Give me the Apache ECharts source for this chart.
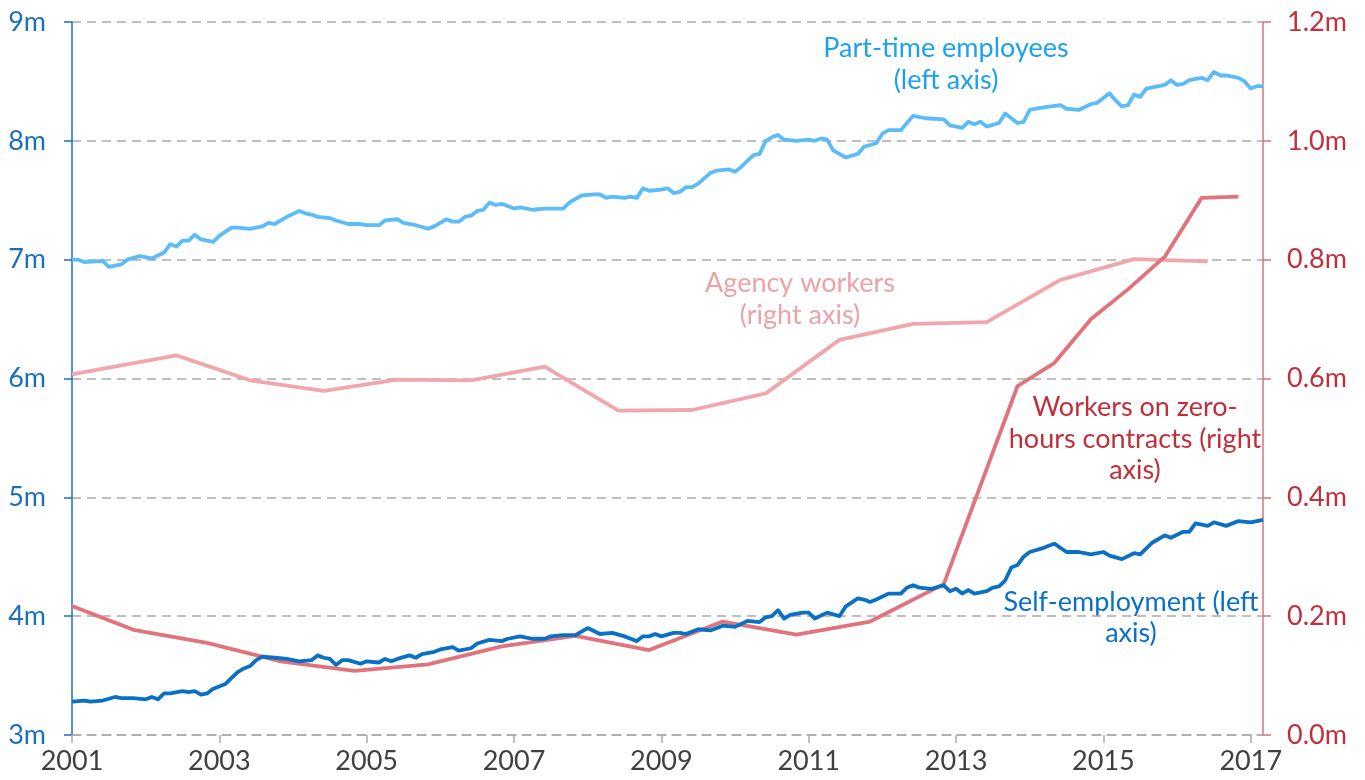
<!DOCTYPE html>
<html lang="en">
<head>
    <meta charset="UTF-8">
    <title>Part-time, self-employment, agency and zero-hours workers</title>
    <script src="https://cdn.jsdelivr.net/npm/echarts@6/dist/echarts.min.js"></script>
    <style>
        html, body { margin: 0; padding: 0; background: #fff; }
        #chart { width: 1365px; height: 780px; }
    </style>
</head>
<body>
    <div id="chart"></div>
    <script>
        // monthly categories, Jan 2001 - Mar 2017
        let months = [];
        for (let y = 2001; y <= 2017; y++) {
            for (let m = 1; m <= 12; m++) {
                if (y === 2017 && m > 3) break;
                months.push(y + '-' + (m < 10 ? '0' + m : m));
            }
        }

        let leftTicks = [3, 4, 5, 6, 7, 8, 9];      // millions
        let rightTicks = [0, 0.2, 0.4, 0.6, 0.8, 1.0, 1.2];

        // Part-time employees (left axis, millions)
        let partTime = [
            ['2001-01', 7.00], ['2001-02', 7.00], ['2001-03', 6.98], ['2001-06', 6.99], ['2001-07', 6.94],
            ['2001-09', 6.96], ['2001-10', 7.00], ['2001-12', 7.03], ['2002-02', 7.01], ['2002-04', 7.06],
            ['2002-05', 7.13], ['2002-06', 7.11], ['2002-07', 7.16], ['2002-08', 7.16], ['2002-09', 7.21],
            ['2002-10', 7.17], ['2002-12', 7.15], ['2003-01', 7.20], ['2003-03', 7.27], ['2003-04', 7.27],
            ['2003-06', 7.26], ['2003-07', 7.27], ['2003-08', 7.28], ['2003-09', 7.31], ['2003-10', 7.30],
            ['2003-12', 7.36], ['2004-02', 7.41], ['2004-03', 7.39], ['2004-04', 7.38], ['2004-05', 7.36],
            ['2004-07', 7.35], ['2004-08', 7.33], ['2004-10', 7.30], ['2004-12', 7.30], ['2005-01', 7.29],
            ['2005-03', 7.29], ['2005-04', 7.33], ['2005-06', 7.34], ['2005-07', 7.31], ['2005-09', 7.29],
            ['2005-11', 7.26], ['2005-12', 7.28], ['2006-02', 7.34], ['2006-03', 7.32], ['2006-04', 7.32],
            ['2006-05', 7.36], ['2006-06', 7.37], ['2006-07', 7.41], ['2006-08', 7.42], ['2006-09', 7.48],
            ['2006-10', 7.46], ['2006-11', 7.47], ['2007-01', 7.43], ['2007-02', 7.44], ['2007-04', 7.42],
            ['2007-06', 7.43], ['2007-09', 7.43], ['2007-10', 7.48], ['2007-12', 7.54], ['2008-02', 7.55],
            ['2008-03', 7.55], ['2008-04', 7.52], ['2008-05', 7.53], ['2008-07', 7.52], ['2008-08', 7.53],
            ['2008-09', 7.52], ['2008-10', 7.60], ['2008-11', 7.58], ['2009-01', 7.59], ['2009-02', 7.60],
            ['2009-03', 7.56], ['2009-04', 7.57], ['2009-05', 7.61], ['2009-06', 7.61], ['2009-07', 7.64],
            ['2009-09', 7.73], ['2009-10', 7.75], ['2009-12', 7.76], ['2010-01', 7.74], ['2010-02', 7.78],
            ['2010-04', 7.88], ['2010-05', 7.89], ['2010-06', 8.00], ['2010-07', 8.03], ['2010-08', 8.05],
            ['2010-09', 8.01], ['2010-11', 8.00], ['2011-01', 8.01], ['2011-02', 8.00], ['2011-03', 8.02],
            ['2011-04', 8.01], ['2011-05', 7.92], ['2011-07', 7.86], ['2011-09', 7.89], ['2011-10', 7.95],
            ['2011-12', 7.98], ['2012-01', 8.06], ['2012-02', 8.09], ['2012-04', 8.09], ['2012-05', 8.15],
            ['2012-06', 8.21], ['2012-08', 8.19], ['2012-11', 8.18], ['2012-12', 8.13], ['2013-02', 8.11],
            ['2013-03', 8.16], ['2013-04', 8.14], ['2013-05', 8.16], ['2013-06', 8.12], ['2013-08', 8.15],
            ['2013-09', 8.23], ['2013-11', 8.15], ['2013-12', 8.16], ['2014-01', 8.26], ['2014-03', 8.28],
            ['2014-06', 8.30], ['2014-07', 8.27], ['2014-09', 8.26], ['2014-11', 8.31], ['2014-12', 8.32],
            ['2015-02', 8.40], ['2015-03', 8.34], ['2015-04', 8.29], ['2015-05', 8.30], ['2015-06', 8.39],
            ['2015-07', 8.37], ['2015-08', 8.44], ['2015-11', 8.47], ['2015-12', 8.51], ['2016-01', 8.47],
            ['2016-02', 8.48], ['2016-03', 8.51], ['2016-05', 8.53], ['2016-06', 8.51], ['2016-07', 8.58],
            ['2016-08', 8.55], ['2016-09', 8.55], ['2016-11', 8.53], ['2016-12', 8.50], ['2017-01', 8.44],
            ['2017-02', 8.46], ['2017-03', 8.46]
        ];

        // Self-employment (left axis, millions)
        let selfEmployment = [
            ['2001-01', 3.28], ['2001-03', 3.29], ['2001-04', 3.28], ['2001-06', 3.29], ['2001-08', 3.32],
            ['2001-09', 3.31], ['2001-11', 3.31], ['2002-01', 3.30], ['2002-02', 3.32], ['2002-03', 3.30],
            ['2002-04', 3.35], ['2002-05', 3.35], ['2002-07', 3.37], ['2002-08', 3.36], ['2002-09', 3.37],
            ['2002-10', 3.34], ['2002-11', 3.35], ['2002-12', 3.39], ['2003-02', 3.43], ['2003-03', 3.48],
            ['2003-04', 3.53], ['2003-05', 3.56], ['2003-06', 3.58], ['2003-07', 3.63], ['2003-08', 3.66],
            ['2003-10', 3.65], ['2003-12', 3.64], ['2004-02', 3.62], ['2004-04', 3.63], ['2004-05', 3.67],
            ['2004-06', 3.65], ['2004-07', 3.64], ['2004-08', 3.59], ['2004-09', 3.63], ['2004-10', 3.63],
            ['2004-12', 3.60], ['2005-01', 3.62], ['2005-03', 3.61], ['2005-04', 3.64], ['2005-05', 3.62],
            ['2005-06', 3.64], ['2005-08', 3.67], ['2005-09', 3.65], ['2005-10', 3.68], ['2005-12', 3.70],
            ['2006-01', 3.72], ['2006-03', 3.74], ['2006-04', 3.71], ['2006-06', 3.73], ['2006-07', 3.77],
            ['2006-09', 3.80], ['2006-11', 3.79], ['2006-12', 3.81], ['2007-02', 3.83], ['2007-03', 3.82],
            ['2007-04', 3.81], ['2007-06', 3.81], ['2007-07', 3.83], ['2007-09', 3.84], ['2007-11', 3.84],
            ['2008-01', 3.90], ['2008-03', 3.85], ['2008-05', 3.86], ['2008-07', 3.83], ['2008-08', 3.81],
            ['2008-09', 3.79], ['2008-10', 3.83], ['2008-11', 3.83], ['2008-12', 3.85], ['2009-01', 3.83],
            ['2009-03', 3.86], ['2009-04', 3.86], ['2009-05', 3.85], ['2009-07', 3.89], ['2009-09', 3.88],
            ['2009-11', 3.92], ['2010-01', 3.91], ['2010-03', 3.96], ['2010-05', 3.95], ['2010-06', 3.99],
            ['2010-07', 4.00], ['2010-08', 4.05], ['2010-09', 3.98], ['2010-10', 4.01], ['2010-12', 4.03],
            ['2011-01', 4.03], ['2011-02', 3.98], ['2011-04', 4.03], ['2011-06', 4.00], ['2011-07', 4.08],
            ['2011-09', 4.15], ['2011-10', 4.14], ['2011-11', 4.12], ['2011-12', 4.14], ['2012-02', 4.19],
            ['2012-04', 4.19], ['2012-05', 4.24], ['2012-06', 4.26], ['2012-07', 4.24], ['2012-09', 4.23],
            ['2012-11', 4.26], ['2012-12', 4.21], ['2013-01', 4.23], ['2013-02', 4.19], ['2013-03', 4.22],
            ['2013-04', 4.19], ['2013-06', 4.21], ['2013-07', 4.24], ['2013-08', 4.25], ['2013-09', 4.30],
            ['2013-10', 4.41], ['2013-11', 4.43], ['2013-12', 4.50], ['2014-01', 4.54], ['2014-03', 4.57],
            ['2014-04', 4.59], ['2014-05', 4.61], ['2014-07', 4.54], ['2014-09', 4.54], ['2014-11', 4.52],
            ['2015-01', 4.54], ['2015-02', 4.51], ['2015-04', 4.48], ['2015-06', 4.53], ['2015-07', 4.52],
            ['2015-09', 4.62], ['2015-11', 4.68], ['2015-12', 4.66], ['2016-02', 4.71], ['2016-03', 4.71],
            ['2016-04', 4.78], ['2016-06', 4.76], ['2016-07', 4.79], ['2016-09', 4.76], ['2016-11', 4.80],
            ['2017-01', 4.79], ['2017-03', 4.81]
        ];

        // Agency workers (right axis, millions)
        let agencyWorkers = [
            ['2001-01', 0.607], ['2002-06', 0.639], ['2003-06', 0.597], ['2004-06', 0.579],
            ['2005-06', 0.598], ['2006-06', 0.597], ['2007-06', 0.620], ['2008-06', 0.546],
            ['2009-06', 0.547], ['2010-06', 0.575], ['2011-06', 0.665], ['2012-06', 0.692],
            ['2013-06', 0.695], ['2014-06', 0.766], ['2015-06', 0.801], ['2016-06', 0.797]
        ];

        // Workers on zero-hours contracts (right axis, millions)
        let zeroHours = [
            ['2001-01', 0.217], ['2001-11', 0.177], ['2002-11', 0.155], ['2003-11', 0.124],
            ['2004-11', 0.108], ['2005-11', 0.119], ['2006-11', 0.149], ['2007-11', 0.167],
            ['2008-11', 0.143], ['2009-11', 0.191], ['2010-11', 0.169], ['2011-11', 0.191],
            ['2012-11', 0.254], ['2013-11', 0.587], ['2014-05', 0.626], ['2014-11', 0.700],
            ['2015-05', 0.750], ['2015-11', 0.805], ['2016-05', 0.904], ['2016-11', 0.906]
        ];

        let font = 'Lato, "Open Sans", sans-serif';
        let gridColor = '#aaaaaa';

        // odd-year Januaries get a tick and label
        function isOddYearStart(index, value) {
            return value.slice(5) === '01' && parseInt(value.slice(0, 4)) % 2 === 1;
        }

        function lineSeries(name, data, color, yAxisIndex, z) {
            return {
                name: name,
                type: 'line',
                data: data,
                yAxisIndex: yAxisIndex,
                showSymbol: false,
                symbol: 'none',
                z: z,
                lineStyle: { color: color, width: 3.8, join: 'round' },
                itemStyle: { color: color }
            };
        }

        function note(text, x, y, color, lineHeight) {
            return {
                type: 'text', x: x, y: y,
                style: {
                    text: text,
                    fill: color, font: '27px ' + font,
                    align: 'center', verticalAlign: 'middle', lineHeight: lineHeight
                }
            };
        }

        let chart = echarts.init(document.getElementById('chart'));
        chart.setOption({
            animation: false,
            textStyle: { fontFamily: font },
            grid: { left: 72, right: 102, top: 22, bottom: 45 },
            xAxis: {
                type: 'category',
                data: months,
                boundaryGap: false,
                axisLine: { lineStyle: { color: gridColor, width: 1.5, type: [9, 6] } },
                axisTick: {
                    interval: isOddYearStart,
                    length: 8,
                    lineStyle: { color: gridColor, width: 1.5 }
                },
                axisLabel: {
                    interval: isOddYearStart,
                    formatter: v => v.slice(0, 4),
                    color: '#404040',
                    fontSize: 27,
                    fontFamily: font,
                    margin: 13
                },
                splitLine: { show: false }
            },
            yAxis: [
                {
                    type: 'value',
                    min: leftTicks[0],
                    max: leftTicks[leftTicks.length - 1],
                    interval: 1,
                    position: 'left',
                    axisLine: { show: true, lineStyle: { color: '#1a70c0', width: 1.5 } },
                    axisTick: { show: true, length: 8, lineStyle: { color: '#1a70c0', width: 1.5 } },
                    axisLabel: {
                        formatter: v => v + 'm',
                        color: '#1a70c0',
                        fontSize: 27,
                        fontFamily: font,
                        margin: 26
                    },
                    splitLine: {
                        show: true,
                        lineStyle: { color: gridColor, width: 1.5, type: [9, 6] }
                    }
                },
                {
                    type: 'value',
                    min: rightTicks[0],
                    max: rightTicks[rightTicks.length - 1],
                    interval: 0.2,
                    position: 'right',
                    axisLine: { show: true, lineStyle: { color: '#d8737c', width: 1.5 } },
                    axisTick: { show: true, length: 8, lineStyle: { color: '#d8737c', width: 1.5 } },
                    axisLabel: {
                        formatter: v => v.toFixed(1) + 'm',
                        color: '#c0303c',
                        fontSize: 27,
                        fontFamily: font,
                        margin: 24
                    },
                    splitLine: { show: false }
                }
            ],
            series: [
                lineSeries('Agency workers', agencyWorkers, '#efa6ac', 1, 2),
                lineSeries('Workers on zero-hours contracts', zeroHours, '#e0737c', 1, 3),
                lineSeries('Part-time employees', partTime, '#5bbcf6', 0, 4),
                lineSeries('Self-employment', selfEmployment, '#0a70c4', 0, 5)
            ],
            graphic: [
                note('Part-time employees\n(left axis)', 946, 64, '#1ea0f0', 32),
                note('Agency workers\n(right axis)', 800, 299, '#eda2a8', 32),
                note('Workers on zero-\nhours contracts (right\naxis)', 1135, 439, '#c0303c', 31.5),
                note('Self-employment (left\naxis)', 1131, 618, '#0a70c8', 31)
            ]
        });
    </script>
</body>
</html>
